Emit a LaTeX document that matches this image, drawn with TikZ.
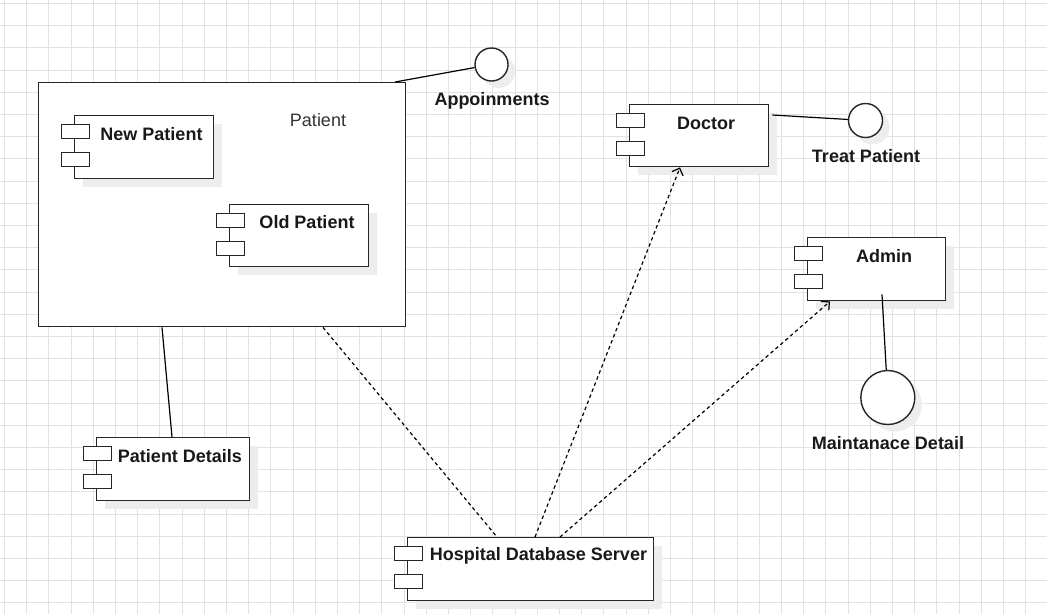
\documentclass[tikz,border=0pt]{standalone}
\usepackage{fontspec}
\setmainfont{Liberation Sans}
\usetikzlibrary{arrows.meta,calc}
\definecolor{gridc}{HTML}{E2E2E2}
\definecolor{shad}{HTML}{EDEDED}
\definecolor{ink}{HTML}{262626}
\tikzset{
  box/.style={draw=ink,line width=1.4pt,fill=white,inner sep=0pt,anchor=north west},
  tab/.style={draw=ink,line width=1.4pt,fill=white,inner sep=0pt,minimum width=28pt,minimum height=14pt,anchor=north west},
  shadowbox/.style={fill=shad,draw=none,inner sep=0pt,anchor=north west},
  iface/.style={circle,draw=ink,line width=1.4pt,fill=white,inner sep=0pt},
  ifshadow/.style={circle,fill=shad,draw=none,inner sep=0pt},
  lbl/.style={font=\fontsize{18}{21}\selectfont\bfseries,inner sep=0pt,text=black!90,yshift=-1.5pt},
  plain/.style={font=\fontsize{18}{21}\selectfont,inner sep=0pt,text=black!80,yshift=-1.5pt},
  link/.style={draw=black,line width=1.2pt},
  dep/.style={draw=black,line width=1.2pt,dash pattern=on 3.5pt off 3pt},
  deparrow/.style={dep,-{Straight Barb[length=6pt,width=12pt,line width=1.2pt]}}
}
% name, x, y, w, h
\newcommand\mkcomp[5]{%
  \node[shadowbox,minimum width=#4pt,minimum height=#5pt] (#1sh) at (#2+9,#3+9) {};
  \node[box,minimum width=#4pt,minimum height=#5pt] (#1) at (#2,#3) {};
  \node[tab] (#1tA) at (#2-13,#3+9) {};
  \node[tab] (#1tB) at (#2-13,#3+37) {};
}
\begin{document}
\begin{tikzpicture}[x=1pt,y=-1pt]
\useasboundingbox (0,0) rectangle (1047,614);
\fill[white] (0,0) rectangle (1047,614);
% grid
\foreach \i in {0,...,47} {\pgfmathsetmacro\gx{round(5+22.2*\i)-0.5}\draw[gridc,line width=1.3pt] (\gx,0) -- (\gx,614);}
\foreach \j in {0,...,27} {\pgfmathsetmacro\gy{round(4+22.2*\j)-0.5}\draw[gridc,line width=1.3pt] (0,\gy) -- (1047,\gy);}

% Patient container
\node[box,minimum width=367pt,minimum height=244pt] (pat) at (38,82) {};
\node[plain] (patT) at (318,119) {Patient};

% components
\mkcomp{np}{74}{115}{139}{63}
\node[lbl] (npT) at (151.5,133) {New Patient};
\mkcomp{op}{229}{204}{139}{62}
\node[lbl] (opT) at (307,221) {Old Patient};
\mkcomp{doc}{629}{104}{139}{62}
\node[lbl] (docT) at (706,122) {Doctor};
\mkcomp{adm}{807}{237}{138}{63}
\node[lbl] (admT) at (884,255) {Admin};
\mkcomp{pd}{96}{437}{153}{63}
\node[lbl] (pdT) at (180,455) {Patient Details};
\mkcomp{hds}{407}{537}{246}{63}
\node[lbl] (hdsT) at (538.5,554) {Hospital Database Server};

% interfaces
\node[ifshadow,minimum size=33pt] (appS) at (498.5,71.5) {};
\node[iface,minimum size=33pt] (app) at (491.5,64.5) {};
\node[lbl] (appT) at (492,99) {Appoinments};
\node[ifshadow,minimum size=34pt] (trtS) at (872.5,127.5) {};
\node[iface,minimum size=34pt] (trt) at (865.5,120.5) {};
\node[lbl] (trtT) at (866,155) {Treat Patient};
\node[ifshadow,minimum size=54pt] (mntS) at (894.8,404.5) {};
\node[iface,minimum size=54pt] (mnt) at (887.8,397.5) {};
\node[lbl] (mntT) at (888,442) {Maintanace Detail};

% connectors
\draw[link] ($(pat.north west)+(357,0)$) -- (app);
\draw[link] ($(doc.north east)+(3,11)$) -- (trt);
\draw[link] ($(adm.south west)+(75,-7)$) -- (mnt);
\draw[link] ($(pat.south west)+(124,0)$) -- ($(pd.north west)+(76,0)$);
\draw[dep] ($(pat.south west)+(285,0)$) -- ($(hds.north west)+(90,0)$);
\draw[deparrow] ($(hds.north west)+(128,0)$) -- ($(doc.south west)+(51,0)$);
\draw[deparrow] ($(hds.north west)+(153,0)$) -- ($(adm.south west)+(23,0)$);
\end{tikzpicture}
\end{document}
